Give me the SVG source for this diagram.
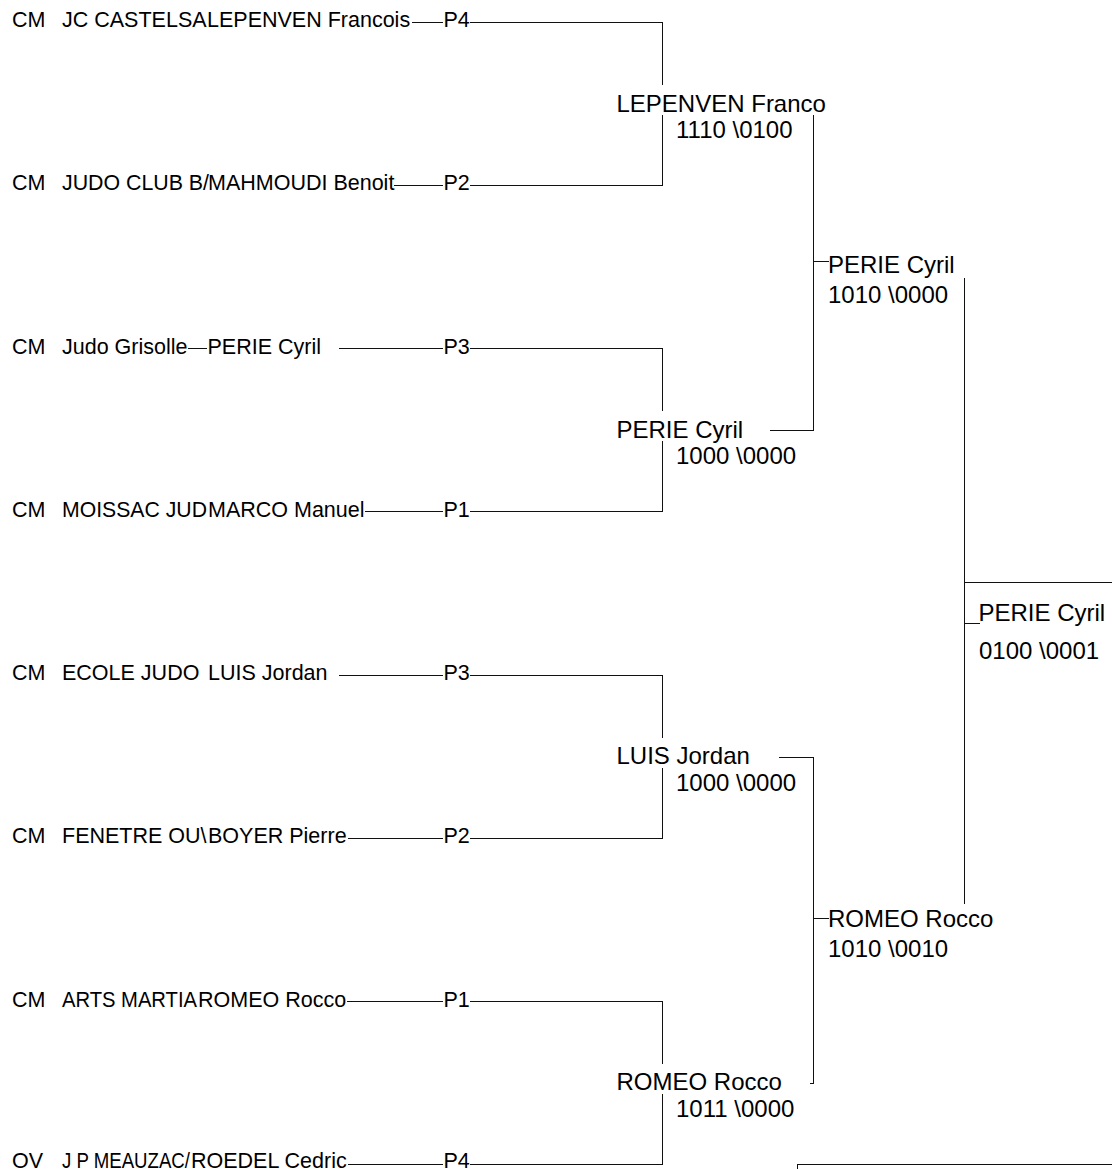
<svg xmlns="http://www.w3.org/2000/svg" width="1112" height="1169" viewBox="0 0 1112 1169">
<style>
text{font-family:"Liberation Sans",Arial,sans-serif;fill:#000}
.s{font-size:21.5px}
.b{font-size:24px}
.c line{stroke:#111;stroke-width:1;fill:none}
</style>
<rect width="1112" height="1169" fill="#fff"/>
<g id="connectors" class="c">
<line x1="412" y1="22.5" x2="443" y2="22.5"/><line x1="470" y1="22.5" x2="662.5" y2="22.5"/>
<line x1="394" y1="185.5" x2="443" y2="185.5"/><line x1="470" y1="185.5" x2="662.5" y2="185.5"/>
<line x1="188" y1="348.5" x2="207" y2="348.5"/><line x1="339" y1="348.5" x2="443" y2="348.5"/><line x1="470" y1="348.5" x2="662.5" y2="348.5"/>
<line x1="365" y1="511.5" x2="443" y2="511.5"/><line x1="470" y1="511.5" x2="662.5" y2="511.5"/>
<line x1="339" y1="675.5" x2="443" y2="675.5"/><line x1="470" y1="675.5" x2="662.5" y2="675.5"/>
<line x1="348" y1="838.5" x2="443" y2="838.5"/><line x1="470" y1="838.5" x2="662.5" y2="838.5"/>
<line x1="347" y1="1001.5" x2="443" y2="1001.5"/><line x1="470" y1="1001.5" x2="662.5" y2="1001.5"/>
<line x1="348" y1="1164.5" x2="443" y2="1164.5"/><line x1="470" y1="1164.5" x2="662.5" y2="1164.5"/>
<line x1="662.5" y1="22" x2="662.5" y2="85"/><line x1="662.5" y1="115" x2="662.5" y2="186"/>
<line x1="662.5" y1="348" x2="662.5" y2="411"/><line x1="662.5" y1="441" x2="662.5" y2="512"/>
<line x1="662.5" y1="675" x2="662.5" y2="738"/><line x1="662.5" y1="768" x2="662.5" y2="839"/>
<line x1="662.5" y1="1001" x2="662.5" y2="1064"/><line x1="662.5" y1="1094" x2="662.5" y2="1165"/>
<line x1="770" y1="430.5" x2="813.5" y2="430.5"/>
<line x1="779" y1="757.5" x2="813.5" y2="757.5"/>
<line x1="810" y1="1083.5" x2="813.5" y2="1083.5"/>
<line x1="813.5" y1="115" x2="813.5" y2="431"/>
<line x1="813.5" y1="757" x2="813.5" y2="1084"/>
<line x1="813.5" y1="261.5" x2="829" y2="261.5"/>
<line x1="813.5" y1="918.5" x2="829" y2="918.5"/>
<line x1="964.5" y1="278" x2="964.5" y2="904"/>
<line x1="964.5" y1="582.5" x2="1112" y2="582.5"/>
<line x1="964.5" y1="623.5" x2="980" y2="623.5"/>
<line x1="797.5" y1="1164.5" x2="1112" y2="1164.5"/><line x1="797.5" y1="1164" x2="797.5" y2="1169"/>
</g>
<g id="p1" class="s"><text x="12" y="27">CM</text><text x="62" y="27">JC CASTELSA</text><text x="207" y="27">LEPENVEN Francois</text><text x="443.5" y="27">P4</text></g>
<g id="p2" class="s"><text x="12" y="190">CM</text><text x="62" y="190" textLength="147" lengthAdjust="spacingAndGlyphs">JUDO CLUB B/</text><text x="208" y="190">MAHMOUDI Benoit</text><text x="443.5" y="190">P2</text></g>
<g id="p3" class="s"><text x="12" y="354">CM</text><text x="62" y="354">Judo Grisolle</text><text x="207.5" y="354">PERIE Cyril</text><text x="443.5" y="354">P3</text></g>
<g id="p4" class="s"><text x="12" y="517">CM</text><text x="62" y="517" textLength="145" lengthAdjust="spacingAndGlyphs">MOISSAC JUD</text><text x="208" y="517">MARCO Manuel</text><text x="443.5" y="517">P1</text></g>
<g id="p5" class="s"><text x="12" y="680">CM</text><text x="62" y="680">ECOLE JUDO</text><text x="208" y="680">LUIS Jordan</text><text x="443.5" y="680">P3</text></g>
<g id="p6" class="s"><text x="12" y="843">CM</text><text x="62" y="843">FENETRE OU\</text><text x="208" y="843">BOYER Pierre</text><text x="443.5" y="843">P2</text></g>
<g id="p7" class="s"><text x="12" y="1007">CM</text><text x="62" y="1007" textLength="135" lengthAdjust="spacingAndGlyphs">ARTS MARTIA</text><text x="198" y="1007">ROMEO Rocco</text><text x="443.5" y="1007">P1</text></g>
<g id="p8" class="s"><text x="12" y="1168">OV</text><text x="62" y="1168" textLength="128" lengthAdjust="spacingAndGlyphs">J P MEAUZAC/</text><text x="191" y="1168">ROEDEL Cedric</text><text x="443.5" y="1168">P4</text></g>
<g id="r2a" class="b"><text x="616.5" y="111.5">LEPENVEN Franco</text><text x="676" y="137.5">1110 \0100</text></g>
<g id="r2b" class="b"><text x="616.5" y="437.5">PERIE Cyril</text><text x="676" y="463.5">1000 \0000</text></g>
<g id="r2c" class="b"><text x="616.5" y="764">LUIS Jordan</text><text x="676" y="790.5">1000 \0000</text></g>
<g id="r2d" class="b"><text x="616.5" y="1090">ROMEO Rocco</text><text x="676" y="1116.5">1011 \0000</text></g>
<g id="r3a" class="b"><text x="828" y="272.5">PERIE Cyril</text><text x="828" y="302.5">1010 \0000</text></g>
<g id="r3b" class="b"><text x="828" y="927">ROMEO Rocco</text><text x="828" y="957">1010 \0010</text></g>
<g id="final" class="b"><text x="978.5" y="621">PERIE Cyril</text><text x="979" y="658.5">0100 \0001</text></g>
</svg>
